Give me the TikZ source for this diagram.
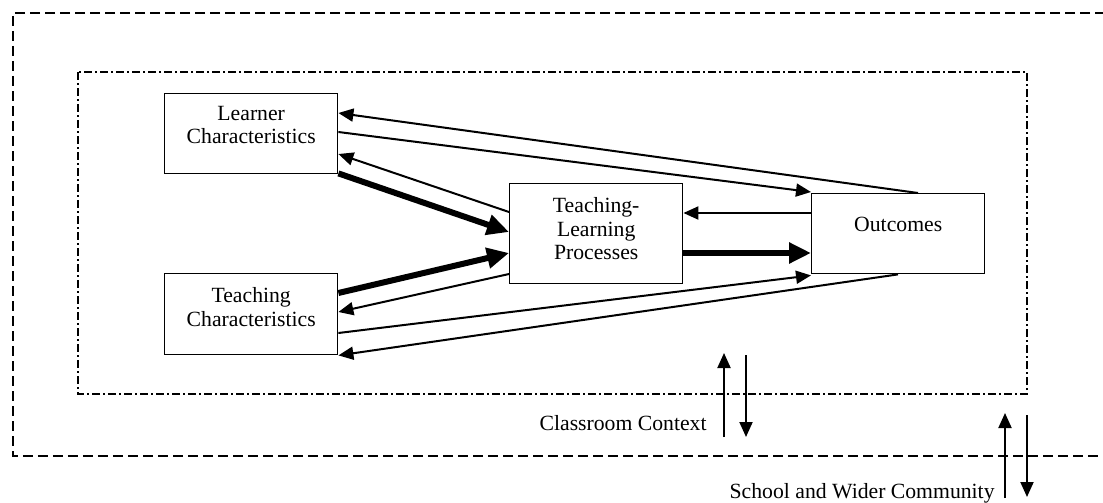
\documentclass[tikz,border=0pt]{standalone}
\usepackage{fontspec}
\setmainfont{Liberation Serif}
\usetikzlibrary{positioning,arrows.meta,calc}

\begin{document}
\begin{tikzpicture}[x=0.5pt, y=-0.5pt, font=\fontsize{10.85}{11.8}\selectfont]
\tikzset{BoxStyle/.style = {draw, line width=0.7pt, anchor=north west, minimum width=86.5pt, inner sep=0pt}}
\tikzset{TextStyle/.style = {anchor=north, align=center, inner sep=0pt}}
\tikzset{ArrowStyle/.style = {line width=1pt, -{Triangle[length=7.5pt, width=6.5pt]}}}
\tikzset{BoldArrow/.style = {line width=3pt, -{Triangle[length=11pt, width=10pt]}}}
\tikzset{OuterFrame/.style = {line width=1pt, dash pattern=on 5pt off 2.5pt}}
\tikzset{InnerFrame/.style = {line width=1pt, dash pattern=on 4pt off 1.5pt on 1pt off 1.5pt}}
	\useasboundingbox (0,0) rectangle (1103,503);
	\clip (0,0) rectangle (1103,503);

	% contexts
	\draw[OuterFrame] (1120,13) -- (13,13) -- (13,456) -- (1120,456);
	\draw[InnerFrame] (78,72) rectangle (1027,394);

	\node[BoxStyle, minimum height=40pt, label={[TextStyle, yshift=-6.25pt]north:Learner\\Characteristics}] (learner) at (164,93) {};
	\node[BoxStyle, minimum height=40.5pt, label={[TextStyle, yshift=-7pt]north:Teaching\\Characteristics}] (teaching) at (164,273) {};
	\node[BoxStyle, minimum height=50pt, label={[TextStyle, yshift=-7pt]north:Teaching-\\Learning\\Processes}] (tlp) at (509,183) {};
	\node[BoxStyle, minimum height=40pt, label={[TextStyle, yshift=-12pt]north:Outcomes}] (outcomes) at (811,193) {};

	% feedback from outcomes
	\draw[ArrowStyle] ($(outcomes.north west)+(107,0)$) -- ($(learner.north east)+(0,20)$);
	\draw[ArrowStyle] ($(learner.north east)+(0,39)$) -- ($(outcomes.north west)+(0,-1)$);
	\draw[ArrowStyle] ($(tlp.north west)+(0,29)$) -- ($(learner.north east)+(0,61)$);
	\draw[BoldArrow] ($(learner.south east)+(0,-1)$) -- ($(tlp.north west)+(0,49)$);

	\draw[BoldArrow] ($(teaching.north east)+(0,20)$) -- ($(tlp.north west)+(0,70)$);
	\draw[ArrowStyle] ($(tlp.north west)+(0,91)$) -- ($(teaching.north east)+(0,39)$);
	\draw[ArrowStyle] ($(teaching.north east)+(0,60)$) -- ($(outcomes.south west)+(0,1)$);
	\draw[ArrowStyle] ($(outcomes.south west)+(87,0)$) -- (teaching.south east);

	\draw[ArrowStyle] ($(outcomes.north west)+(0,20)$) -- ($(tlp.north east)+(0,30)$);
	\draw[BoldArrow] ($(tlp.north east)+(0,70)$) -- ($(outcomes.north west)+(0,60)$);

	% context labels
	\node[anchor=base east, inner sep=0pt] (classroom) at (707,430) {Classroom Context};
	\node[anchor=base east, inner sep=0pt] (community) at (995,498) {School and Wider Community};
	\coordinate (cls-up) at (724,437);
	\coordinate (cls-up-tip) at (724,353);
	\coordinate (cls-down) at (746,355);
	\coordinate (cls-down-tip) at (746,437);
	\coordinate (com-up) at (1005,498);
	\coordinate (com-up-tip) at (1005,413);
	\coordinate (com-down) at (1027,415);
	\coordinate (com-down-tip) at (1027,497);
	\draw[ArrowStyle] (cls-up) -- (cls-up-tip);
	\draw[ArrowStyle] (cls-down) -- (cls-down-tip);
	\draw[ArrowStyle] (com-up) -- (com-up-tip);
	\draw[ArrowStyle] (com-down) -- (com-down-tip);

\end{tikzpicture}
\end{document}
